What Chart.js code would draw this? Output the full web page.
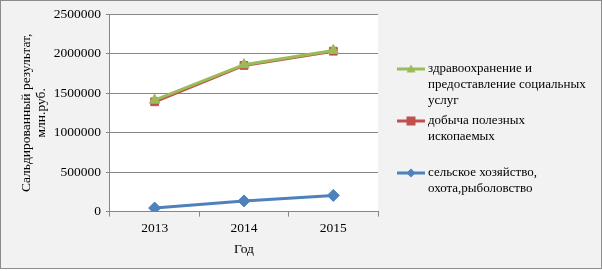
<!DOCTYPE html>
<html>
<head>
<meta charset="utf-8">
<script src="https://cdn.jsdelivr.net/npm/chart.js@4"></script>
<style>
  body { margin: 0; background: #fff; }
  #wrap { position: relative; width: 600px; height: 267px; border: 1px solid #8c8c8c; background: #f2f2f2; }
</style>
</head>
<body>
<div id="wrap"><canvas id="chart" width="600" height="267"></canvas></div>
<script>
// data
const years = ["2013", "2014", "2015"];
const health = [1410000, 1860000, 2040000];
const mining = [1390000, 1850000, 2030000];
const agro = [45000, 135000, 205000];
const yTicks = [0, 500000, 1000000, 1500000, 2000000, 2500000];

const legendLines = [
  ["здравоохранение и", "предоставление социальных", "услуг"],
  ["добыча полезных", "ископаемых"],
  ["сельское хозяйство,", "охота,рыболовство"],
];

const font = "'Liberation Serif', 'Times New Roman', serif";

// white plot area
const plotBg = {
  id: "plotBg",
  beforeDraw(chart) {
    const { ctx, chartArea: a } = chart;
    ctx.save();
    ctx.fillStyle = "#fff";
    ctx.fillRect(a.left, a.top, a.right - a.left, a.bottom - a.top);
    ctx.restore();
  },
};

// legend drawn by hand, the built in one cannot wrap text
const sideLegend = {
  id: "sideLegend",
  afterDraw(chart) {
    const ctx = chart.ctx;
    const rowY = [68, 120, 172];
    ctx.save();
    ctx.font = "13px " + font;
    ctx.textBaseline = "middle";
    chart.data.datasets.forEach((ds, i) => {
      const y = rowY[i];
      ctx.strokeStyle = ds.borderColor;
      ctx.lineWidth = 3;
      ctx.beginPath();
      ctx.moveTo(396, y);
      ctx.lineTo(424, y);
      ctx.stroke();
      ctx.fillStyle = ds.borderColor;
      const s = 4.5;
      ctx.beginPath();
      if (ds.pointStyle === "triangle") {
        ctx.moveTo(410, y - s);
        ctx.lineTo(410 + s, y + s * 0.8);
        ctx.lineTo(410 - s, y + s * 0.8);
      } else if (ds.pointStyle === "rect") {
        ctx.rect(410 - s, y - s, s * 2, s * 2);
      } else {
        ctx.moveTo(410, y - s);
        ctx.lineTo(410 + s, y);
        ctx.lineTo(410, y + s);
        ctx.lineTo(410 - s, y);
      }
      ctx.closePath();
      ctx.fill();
      ctx.fillStyle = "#000";
      legendLines[i].forEach((t, j) => ctx.fillText(t, 427, y + j * 16));
    });
    ctx.restore();
  },
};

new Chart(document.getElementById("chart"), {
  type: "line",
  data: {
    labels: years,
    datasets: [
      { label: "здравоохранение и предоставление социальных услуг", data: health,
        borderColor: "#9bbb59", backgroundColor: "#9bbb59", pointStyle: "triangle", pointRadius: 6 },
      { label: "добыча полезных ископаемых", data: mining,
        borderColor: "#c0504d", backgroundColor: "#c0504d", pointStyle: "rect", pointRadius: 5.5 },
      { label: "сельское хозяйство, охота,рыболовство", data: agro,
        borderColor: "#4f81bd", backgroundColor: "#4f81bd", pointStyle: "rectRot", pointRadius: 6 },
    ],
  },
  options: {
    responsive: false,
    animation: false,
    elements: { line: { borderWidth: 3, tension: 0 }, point: { borderWidth: 1 } },
    layout: { padding: { top: 13, right: 223, left: 18, bottom: 9 } },
    plugins: { legend: { display: false }, tooltip: { enabled: false } },
    scales: {
      x: {
        offset: true,
        grid: { offset: true, drawOnChartArea: false, color: "#868686", tickLength: 5 },
        border: { color: "#868686" },
        ticks: { color: "#000", font: { family: font, size: 13.5 }, padding: 4 },
        title: { display: true, text: "Год", color: "#000", font: { family: font, size: 13.5 }, padding: 1 },
      },
      y: {
        min: 0, max: 2500000,
        afterBuildTicks: (s) => { s.ticks = yTicks.map((v) => ({ value: v })); },
        grid: { color: "#868686", tickLength: 4 },
        border: { color: "#868686" },
        ticks: { color: "#000", font: { family: font, size: 13.5 }, padding: 5, callback: (v) => String(v) },
        title: { display: true, text: ["Сальдированный результат,", "млн.руб."], color: "#000",
          font: { family: font, size: 13.5, lineHeight: 1.1 }, padding: 0 },
      },
    },
  },
  plugins: [plotBg, sideLegend],
});
</script>
</body>
</html>
